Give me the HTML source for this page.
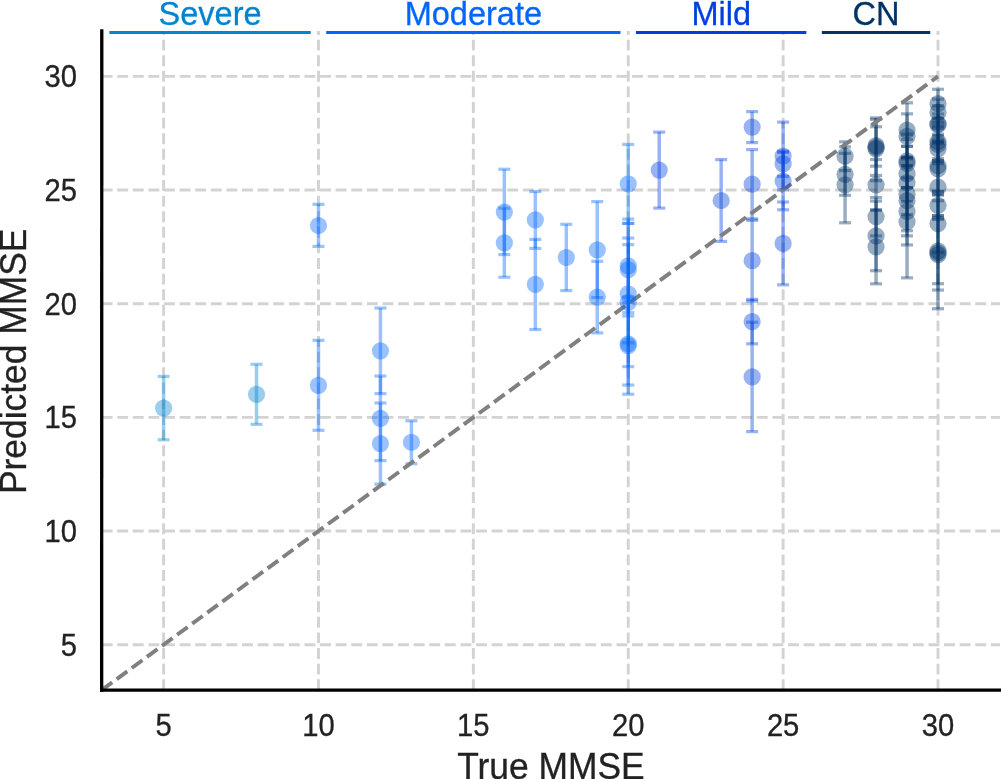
<!DOCTYPE html>
<html><head><meta charset="utf-8"><title>Predicted vs True MMSE</title>
<style>
html,body{margin:0;padding:0;background:#fff;}
body{width:1001px;height:779px;overflow:hidden;}
svg{display:block;font-family:"Liberation Sans",Arial,Helvetica,sans-serif;}
</style></head><body>
<svg width="1001" height="779" viewBox="0 0 1001 779">
<defs><clipPath id="ax"><rect x="101.65" y="30.94" width="898.3" height="659.23"/></clipPath></defs>
<defs><linearGradient id="g0" gradientUnits="userSpaceOnUse" x1="0" y1="376.4" x2="0" y2="439.8"><stop offset="0.0000" stop-color="#0284D0" stop-opacity="0.400"/><stop offset="1.0000" stop-color="#0284D0" stop-opacity="0.400"/></linearGradient><linearGradient id="g1" gradientUnits="userSpaceOnUse" x1="0" y1="364.25" x2="0" y2="424.35"><stop offset="0.0000" stop-color="#0284D0" stop-opacity="0.400"/><stop offset="1.0000" stop-color="#0284D0" stop-opacity="0.400"/></linearGradient><linearGradient id="g2" gradientUnits="userSpaceOnUse" x1="0" y1="204.3" x2="0" y2="430.3"><stop offset="0.0000" stop-color="#0066FF" stop-opacity="0.400"/><stop offset="0.1863" stop-color="#0066FF" stop-opacity="0.400"/><stop offset="0.1863" stop-color="#0066FF" stop-opacity="0.000"/><stop offset="0.6018" stop-color="#0066FF" stop-opacity="0.000"/><stop offset="0.6018" stop-color="#0066FF" stop-opacity="0.400"/><stop offset="1.0000" stop-color="#0066FF" stop-opacity="0.400"/></linearGradient><linearGradient id="g3" gradientUnits="userSpaceOnUse" x1="0" y1="308.05" x2="0" y2="484.15"><stop offset="0.0000" stop-color="#0066FF" stop-opacity="0.400"/><stop offset="0.3861" stop-color="#0066FF" stop-opacity="0.400"/><stop offset="0.3861" stop-color="#0066FF" stop-opacity="0.640"/><stop offset="0.4861" stop-color="#0066FF" stop-opacity="0.640"/><stop offset="0.4861" stop-color="#0066FF" stop-opacity="0.400"/><stop offset="0.5389" stop-color="#0066FF" stop-opacity="0.400"/><stop offset="0.5389" stop-color="#0066FF" stop-opacity="0.640"/><stop offset="0.8666" stop-color="#0066FF" stop-opacity="0.640"/><stop offset="0.8666" stop-color="#0066FF" stop-opacity="0.400"/><stop offset="1.0000" stop-color="#0066FF" stop-opacity="0.400"/></linearGradient><linearGradient id="g4" gradientUnits="userSpaceOnUse" x1="0" y1="420.75" x2="0" y2="463.75"><stop offset="0.0000" stop-color="#0066FF" stop-opacity="0.400"/><stop offset="1.0000" stop-color="#0066FF" stop-opacity="0.400"/></linearGradient><linearGradient id="g5" gradientUnits="userSpaceOnUse" x1="0" y1="169.25" x2="0" y2="277.2"><stop offset="0.0000" stop-color="#0066FF" stop-opacity="0.400"/><stop offset="0.3608" stop-color="#0066FF" stop-opacity="0.400"/><stop offset="0.3608" stop-color="#0066FF" stop-opacity="0.640"/><stop offset="0.7906" stop-color="#0066FF" stop-opacity="0.640"/><stop offset="0.7906" stop-color="#0066FF" stop-opacity="0.400"/><stop offset="1.0000" stop-color="#0066FF" stop-opacity="0.400"/></linearGradient><linearGradient id="g6" gradientUnits="userSpaceOnUse" x1="0" y1="191.5" x2="0" y2="329.5"><stop offset="0.0000" stop-color="#0066FF" stop-opacity="0.400"/><stop offset="0.3471" stop-color="#0066FF" stop-opacity="0.400"/><stop offset="0.3471" stop-color="#0066FF" stop-opacity="0.640"/><stop offset="0.4123" stop-color="#0066FF" stop-opacity="0.640"/><stop offset="0.4123" stop-color="#0066FF" stop-opacity="0.400"/><stop offset="1.0000" stop-color="#0066FF" stop-opacity="0.400"/></linearGradient><linearGradient id="g7" gradientUnits="userSpaceOnUse" x1="0" y1="224.3" x2="0" y2="290.6"><stop offset="0.0000" stop-color="#0066FF" stop-opacity="0.400"/><stop offset="1.0000" stop-color="#0066FF" stop-opacity="0.400"/></linearGradient><linearGradient id="g8" gradientUnits="userSpaceOnUse" x1="0" y1="201.6" x2="0" y2="332.9"><stop offset="0.0000" stop-color="#0066FF" stop-opacity="0.400"/><stop offset="0.4547" stop-color="#0066FF" stop-opacity="0.400"/><stop offset="0.4547" stop-color="#0066FF" stop-opacity="0.640"/><stop offset="0.7312" stop-color="#0066FF" stop-opacity="0.640"/><stop offset="0.7312" stop-color="#0066FF" stop-opacity="0.400"/><stop offset="1.0000" stop-color="#0066FF" stop-opacity="0.400"/></linearGradient><linearGradient id="g9" gradientUnits="userSpaceOnUse" x1="0" y1="144.45" x2="0" y2="394.25"><stop offset="0.0000" stop-color="#0066FF" stop-opacity="0.400"/><stop offset="0.2986" stop-color="#0066FF" stop-opacity="0.400"/><stop offset="0.2986" stop-color="#0066FF" stop-opacity="0.640"/><stop offset="0.3159" stop-color="#0066FF" stop-opacity="0.640"/><stop offset="0.3159" stop-color="#0066FF" stop-opacity="0.784"/><stop offset="0.3163" stop-color="#0066FF" stop-opacity="0.784"/><stop offset="0.3163" stop-color="#0066FF" stop-opacity="0.640"/><stop offset="0.3747" stop-color="#0066FF" stop-opacity="0.640"/><stop offset="0.3747" stop-color="#0066FF" stop-opacity="0.784"/><stop offset="0.4011" stop-color="#0066FF" stop-opacity="0.784"/><stop offset="0.4011" stop-color="#0066FF" stop-opacity="0.870"/><stop offset="0.6109" stop-color="#0066FF" stop-opacity="0.870"/><stop offset="0.6109" stop-color="#0066FF" stop-opacity="0.922"/><stop offset="0.6325" stop-color="#0066FF" stop-opacity="0.922"/><stop offset="0.6325" stop-color="#0066FF" stop-opacity="0.953"/><stop offset="0.6733" stop-color="#0066FF" stop-opacity="0.953"/><stop offset="0.6733" stop-color="#0066FF" stop-opacity="0.922"/><stop offset="0.6865" stop-color="#0066FF" stop-opacity="0.922"/><stop offset="0.6865" stop-color="#0066FF" stop-opacity="0.870"/><stop offset="0.7942" stop-color="#0066FF" stop-opacity="0.870"/><stop offset="0.7942" stop-color="#0066FF" stop-opacity="0.784"/><stop offset="0.8895" stop-color="#0066FF" stop-opacity="0.784"/><stop offset="0.8895" stop-color="#0066FF" stop-opacity="0.640"/><stop offset="0.9632" stop-color="#0066FF" stop-opacity="0.640"/><stop offset="0.9632" stop-color="#0066FF" stop-opacity="0.400"/><stop offset="1.0000" stop-color="#0066FF" stop-opacity="0.400"/></linearGradient><linearGradient id="g10" gradientUnits="userSpaceOnUse" x1="0" y1="132.1" x2="0" y2="208.1"><stop offset="0.0000" stop-color="#0040DD" stop-opacity="0.400"/><stop offset="1.0000" stop-color="#0040DD" stop-opacity="0.400"/></linearGradient><linearGradient id="g11" gradientUnits="userSpaceOnUse" x1="0" y1="159.6" x2="0" y2="241.4"><stop offset="0.0000" stop-color="#0040DD" stop-opacity="0.400"/><stop offset="1.0000" stop-color="#0040DD" stop-opacity="0.400"/></linearGradient><linearGradient id="g12" gradientUnits="userSpaceOnUse" x1="0" y1="111.6" x2="0" y2="431.6"><stop offset="0.0000" stop-color="#0040DD" stop-opacity="0.400"/><stop offset="0.0969" stop-color="#0040DD" stop-opacity="0.400"/><stop offset="0.0969" stop-color="#0040DD" stop-opacity="0.000"/><stop offset="0.1187" stop-color="#0040DD" stop-opacity="0.000"/><stop offset="0.1187" stop-color="#0040DD" stop-opacity="0.400"/><stop offset="0.3350" stop-color="#0040DD" stop-opacity="0.400"/><stop offset="0.3350" stop-color="#0040DD" stop-opacity="0.000"/><stop offset="0.3397" stop-color="#0040DD" stop-opacity="0.000"/><stop offset="0.3397" stop-color="#0040DD" stop-opacity="0.400"/><stop offset="0.5869" stop-color="#0040DD" stop-opacity="0.400"/><stop offset="0.5869" stop-color="#0040DD" stop-opacity="0.640"/><stop offset="0.5922" stop-color="#0040DD" stop-opacity="0.640"/><stop offset="0.5922" stop-color="#0040DD" stop-opacity="0.400"/><stop offset="0.6581" stop-color="#0040DD" stop-opacity="0.400"/><stop offset="0.6581" stop-color="#0040DD" stop-opacity="0.640"/><stop offset="0.7256" stop-color="#0040DD" stop-opacity="0.640"/><stop offset="0.7256" stop-color="#0040DD" stop-opacity="0.400"/><stop offset="1.0000" stop-color="#0040DD" stop-opacity="0.400"/></linearGradient><linearGradient id="g13" gradientUnits="userSpaceOnUse" x1="0" y1="122.1" x2="0" y2="284.8"><stop offset="0.0000" stop-color="#0040DD" stop-opacity="0.400"/><stop offset="0.1795" stop-color="#0040DD" stop-opacity="0.400"/><stop offset="0.1795" stop-color="#0040DD" stop-opacity="0.640"/><stop offset="0.1862" stop-color="#0040DD" stop-opacity="0.640"/><stop offset="0.1862" stop-color="#0040DD" stop-opacity="0.784"/><stop offset="0.3344" stop-color="#0040DD" stop-opacity="0.784"/><stop offset="0.3344" stop-color="#0040DD" stop-opacity="0.640"/><stop offset="0.4167" stop-color="#0040DD" stop-opacity="0.640"/><stop offset="0.4167" stop-color="#0040DD" stop-opacity="0.400"/><stop offset="0.4911" stop-color="#0040DD" stop-opacity="0.400"/><stop offset="0.4911" stop-color="#0040DD" stop-opacity="0.640"/><stop offset="0.5390" stop-color="#0040DD" stop-opacity="0.640"/><stop offset="0.5390" stop-color="#0040DD" stop-opacity="0.400"/><stop offset="1.0000" stop-color="#0040DD" stop-opacity="0.400"/></linearGradient><linearGradient id="g14" gradientUnits="userSpaceOnUse" x1="0" y1="141.8" x2="0" y2="222.8"><stop offset="0.0000" stop-color="#003366" stop-opacity="0.400"/><stop offset="0.0617" stop-color="#003366" stop-opacity="0.400"/><stop offset="0.0617" stop-color="#003366" stop-opacity="0.640"/><stop offset="0.1420" stop-color="#003366" stop-opacity="0.640"/><stop offset="0.1420" stop-color="#003366" stop-opacity="0.784"/><stop offset="0.3556" stop-color="#003366" stop-opacity="0.784"/><stop offset="0.3556" stop-color="#003366" stop-opacity="0.640"/><stop offset="0.6605" stop-color="#003366" stop-opacity="0.640"/><stop offset="0.6605" stop-color="#003366" stop-opacity="0.400"/><stop offset="1.0000" stop-color="#003366" stop-opacity="0.400"/></linearGradient><linearGradient id="g15" gradientUnits="userSpaceOnUse" x1="0" y1="117.85" x2="0" y2="283.85"><stop offset="0.0000" stop-color="#003366" stop-opacity="0.400"/><stop offset="0.0096" stop-color="#003366" stop-opacity="0.400"/><stop offset="0.0096" stop-color="#003366" stop-opacity="0.640"/><stop offset="0.0536" stop-color="#003366" stop-opacity="0.640"/><stop offset="0.0536" stop-color="#003366" stop-opacity="0.784"/><stop offset="0.2512" stop-color="#003366" stop-opacity="0.784"/><stop offset="0.2512" stop-color="#003366" stop-opacity="0.870"/><stop offset="0.2910" stop-color="#003366" stop-opacity="0.870"/><stop offset="0.2910" stop-color="#003366" stop-opacity="0.784"/><stop offset="0.3470" stop-color="#003366" stop-opacity="0.784"/><stop offset="0.3470" stop-color="#003366" stop-opacity="0.640"/><stop offset="0.3789" stop-color="#003366" stop-opacity="0.640"/><stop offset="0.3789" stop-color="#003366" stop-opacity="0.400"/><stop offset="0.4801" stop-color="#003366" stop-opacity="0.400"/><stop offset="0.4801" stop-color="#003366" stop-opacity="0.640"/><stop offset="0.5018" stop-color="#003366" stop-opacity="0.640"/><stop offset="0.5018" stop-color="#003366" stop-opacity="0.784"/><stop offset="0.5542" stop-color="#003366" stop-opacity="0.784"/><stop offset="0.5542" stop-color="#003366" stop-opacity="0.870"/><stop offset="0.5560" stop-color="#003366" stop-opacity="0.870"/><stop offset="0.5560" stop-color="#003366" stop-opacity="0.784"/><stop offset="0.7114" stop-color="#003366" stop-opacity="0.784"/><stop offset="0.7114" stop-color="#003366" stop-opacity="0.640"/><stop offset="0.9211" stop-color="#003366" stop-opacity="0.640"/><stop offset="0.9211" stop-color="#003366" stop-opacity="0.400"/><stop offset="1.0000" stop-color="#003366" stop-opacity="0.400"/></linearGradient><linearGradient id="g16" gradientUnits="userSpaceOnUse" x1="0" y1="102.85" x2="0" y2="277.85"><stop offset="0.0000" stop-color="#003366" stop-opacity="0.400"/><stop offset="0.0629" stop-color="#003366" stop-opacity="0.400"/><stop offset="0.0629" stop-color="#003366" stop-opacity="0.640"/><stop offset="0.1789" stop-color="#003366" stop-opacity="0.640"/><stop offset="0.1789" stop-color="#003366" stop-opacity="0.784"/><stop offset="0.2091" stop-color="#003366" stop-opacity="0.784"/><stop offset="0.2091" stop-color="#003366" stop-opacity="0.870"/><stop offset="0.2480" stop-color="#003366" stop-opacity="0.870"/><stop offset="0.2480" stop-color="#003366" stop-opacity="0.922"/><stop offset="0.2491" stop-color="#003366" stop-opacity="0.922"/><stop offset="0.2491" stop-color="#003366" stop-opacity="0.953"/><stop offset="0.3109" stop-color="#003366" stop-opacity="0.953"/><stop offset="0.3109" stop-color="#003366" stop-opacity="0.922"/><stop offset="0.3120" stop-color="#003366" stop-opacity="0.922"/><stop offset="0.3120" stop-color="#003366" stop-opacity="0.953"/><stop offset="0.3200" stop-color="#003366" stop-opacity="0.953"/><stop offset="0.3200" stop-color="#003366" stop-opacity="0.922"/><stop offset="0.3577" stop-color="#003366" stop-opacity="0.922"/><stop offset="0.3577" stop-color="#003366" stop-opacity="0.953"/><stop offset="0.3589" stop-color="#003366" stop-opacity="0.953"/><stop offset="0.3589" stop-color="#003366" stop-opacity="0.972"/><stop offset="0.4291" stop-color="#003366" stop-opacity="0.972"/><stop offset="0.4291" stop-color="#003366" stop-opacity="0.983"/><stop offset="0.4834" stop-color="#003366" stop-opacity="0.983"/><stop offset="0.4834" stop-color="#003366" stop-opacity="0.972"/><stop offset="0.4851" stop-color="#003366" stop-opacity="0.972"/><stop offset="0.4851" stop-color="#003366" stop-opacity="0.953"/><stop offset="0.5646" stop-color="#003366" stop-opacity="0.953"/><stop offset="0.5646" stop-color="#003366" stop-opacity="0.922"/><stop offset="0.6377" stop-color="#003366" stop-opacity="0.922"/><stop offset="0.6377" stop-color="#003366" stop-opacity="0.870"/><stop offset="0.7309" stop-color="#003366" stop-opacity="0.870"/><stop offset="0.7309" stop-color="#003366" stop-opacity="0.784"/><stop offset="0.7600" stop-color="#003366" stop-opacity="0.784"/><stop offset="0.7600" stop-color="#003366" stop-opacity="0.640"/><stop offset="0.8120" stop-color="#003366" stop-opacity="0.640"/><stop offset="0.8120" stop-color="#003366" stop-opacity="0.400"/><stop offset="1.0000" stop-color="#003366" stop-opacity="0.400"/></linearGradient><linearGradient id="g17" gradientUnits="userSpaceOnUse" x1="0" y1="89.25" x2="0" y2="308.75"><stop offset="0.0000" stop-color="#003366" stop-opacity="0.400"/><stop offset="0.0451" stop-color="#003366" stop-opacity="0.400"/><stop offset="0.0451" stop-color="#003366" stop-opacity="0.640"/><stop offset="0.0747" stop-color="#003366" stop-opacity="0.640"/><stop offset="0.0747" stop-color="#003366" stop-opacity="0.784"/><stop offset="0.1125" stop-color="#003366" stop-opacity="0.784"/><stop offset="0.1125" stop-color="#003366" stop-opacity="0.870"/><stop offset="0.1312" stop-color="#003366" stop-opacity="0.870"/><stop offset="0.1312" stop-color="#003366" stop-opacity="0.784"/><stop offset="0.1503" stop-color="#003366" stop-opacity="0.784"/><stop offset="0.1503" stop-color="#003366" stop-opacity="0.870"/><stop offset="0.1663" stop-color="#003366" stop-opacity="0.870"/><stop offset="0.1663" stop-color="#003366" stop-opacity="0.784"/><stop offset="0.1768" stop-color="#003366" stop-opacity="0.784"/><stop offset="0.1768" stop-color="#003366" stop-opacity="0.870"/><stop offset="0.2050" stop-color="#003366" stop-opacity="0.870"/><stop offset="0.2050" stop-color="#003366" stop-opacity="0.922"/><stop offset="0.2128" stop-color="#003366" stop-opacity="0.922"/><stop offset="0.2128" stop-color="#003366" stop-opacity="0.870"/><stop offset="0.2314" stop-color="#003366" stop-opacity="0.870"/><stop offset="0.2314" stop-color="#003366" stop-opacity="0.922"/><stop offset="0.2396" stop-color="#003366" stop-opacity="0.922"/><stop offset="0.2396" stop-color="#003366" stop-opacity="0.870"/><stop offset="0.2446" stop-color="#003366" stop-opacity="0.870"/><stop offset="0.2446" stop-color="#003366" stop-opacity="0.922"/><stop offset="0.3162" stop-color="#003366" stop-opacity="0.922"/><stop offset="0.3162" stop-color="#003366" stop-opacity="0.953"/><stop offset="0.3262" stop-color="#003366" stop-opacity="0.953"/><stop offset="0.3262" stop-color="#003366" stop-opacity="0.922"/><stop offset="0.3280" stop-color="#003366" stop-opacity="0.922"/><stop offset="0.3280" stop-color="#003366" stop-opacity="0.870"/><stop offset="0.3390" stop-color="#003366" stop-opacity="0.870"/><stop offset="0.3390" stop-color="#003366" stop-opacity="0.784"/><stop offset="0.4647" stop-color="#003366" stop-opacity="0.784"/><stop offset="0.4647" stop-color="#003366" stop-opacity="0.870"/><stop offset="0.4656" stop-color="#003366" stop-opacity="0.870"/><stop offset="0.4656" stop-color="#003366" stop-opacity="0.784"/><stop offset="0.4806" stop-color="#003366" stop-opacity="0.784"/><stop offset="0.4806" stop-color="#003366" stop-opacity="0.870"/><stop offset="0.4815" stop-color="#003366" stop-opacity="0.870"/><stop offset="0.4815" stop-color="#003366" stop-opacity="0.784"/><stop offset="0.5080" stop-color="#003366" stop-opacity="0.784"/><stop offset="0.5080" stop-color="#003366" stop-opacity="0.870"/><stop offset="0.5759" stop-color="#003366" stop-opacity="0.870"/><stop offset="0.5759" stop-color="#003366" stop-opacity="0.870"/><stop offset="0.5872" stop-color="#003366" stop-opacity="0.870"/><stop offset="0.5872" stop-color="#003366" stop-opacity="0.922"/><stop offset="0.5932" stop-color="#003366" stop-opacity="0.922"/><stop offset="0.5932" stop-color="#003366" stop-opacity="0.870"/><stop offset="0.7431" stop-color="#003366" stop-opacity="0.870"/><stop offset="0.7431" stop-color="#003366" stop-opacity="0.784"/><stop offset="0.8861" stop-color="#003366" stop-opacity="0.784"/><stop offset="0.8861" stop-color="#003366" stop-opacity="0.640"/><stop offset="0.9148" stop-color="#003366" stop-opacity="0.640"/><stop offset="0.9148" stop-color="#003366" stop-opacity="0.400"/><stop offset="1.0000" stop-color="#003366" stop-opacity="0.400"/></linearGradient></defs>
<g stroke="#d3d3d3" stroke-width="2.9445" stroke-dasharray="10.89 4.71" fill="none">
<line x1="163.6" y1="690.16" x2="163.6" y2="30.94"/>
<line x1="318.48" y1="690.16" x2="318.48" y2="30.94"/>
<line x1="473.36" y1="690.16" x2="473.36" y2="30.94"/>
<line x1="628.24" y1="690.16" x2="628.24" y2="30.94"/>
<line x1="783.12" y1="690.16" x2="783.12" y2="30.94"/>
<line x1="938" y1="690.16" x2="938" y2="30.94"/>
<line x1="101.65" y1="644.7" x2="999.95" y2="644.7"/>
<line x1="101.65" y1="531.04" x2="999.95" y2="531.04"/>
<line x1="101.65" y1="417.38" x2="999.95" y2="417.38"/>
<line x1="101.65" y1="303.72" x2="999.95" y2="303.72"/>
<line x1="101.65" y1="190.06" x2="999.95" y2="190.06"/>
<line x1="101.65" y1="76.4" x2="999.95" y2="76.4"/>
</g>
<line x1="163.6" y1="376.4" x2="163.6" y2="439.8" stroke="url(#g0)" stroke-width="3.5"/>
<g stroke="#0284D0" stroke-opacity="0.4" stroke-width="3.2">
<line x1="157.6" y1="376.4" x2="169.6" y2="376.4"/>
<line x1="157.6" y1="439.8" x2="169.6" y2="439.8"/>
</g>
<line x1="256.53" y1="364.25" x2="256.53" y2="424.35" stroke="url(#g1)" stroke-width="3.5"/>
<g stroke="#0284D0" stroke-opacity="0.4" stroke-width="3.2">
<line x1="250.53" y1="364.25" x2="262.53" y2="364.25"/>
<line x1="250.53" y1="424.35" x2="262.53" y2="424.35"/>
</g>
<line x1="318.48" y1="204.3" x2="318.48" y2="430.3" stroke="url(#g2)" stroke-width="3.5"/>
<g stroke="#0066FF" stroke-opacity="0.4" stroke-width="3.2">
<line x1="312.48" y1="204.3" x2="324.48" y2="204.3"/>
<line x1="312.48" y1="246.4" x2="324.48" y2="246.4"/>
<line x1="312.48" y1="340.3" x2="324.48" y2="340.3"/>
<line x1="312.48" y1="430.3" x2="324.48" y2="430.3"/>
</g>
<line x1="380.43" y1="308.05" x2="380.43" y2="484.15" stroke="url(#g3)" stroke-width="3.5"/>
<g stroke="#0066FF" stroke-opacity="0.4" stroke-width="3.2">
<line x1="374.43" y1="308.05" x2="386.43" y2="308.05"/>
<line x1="374.43" y1="393.65" x2="386.43" y2="393.65"/>
<line x1="374.43" y1="376.05" x2="386.43" y2="376.05"/>
<line x1="374.43" y1="460.65" x2="386.43" y2="460.65"/>
<line x1="374.43" y1="402.95" x2="386.43" y2="402.95"/>
<line x1="374.43" y1="484.15" x2="386.43" y2="484.15"/>
</g>
<line x1="411.41" y1="420.75" x2="411.41" y2="463.75" stroke="url(#g4)" stroke-width="3.5"/>
<g stroke="#0066FF" stroke-opacity="0.4" stroke-width="3.2">
<line x1="405.41" y1="420.75" x2="417.41" y2="420.75"/>
<line x1="405.41" y1="463.75" x2="417.41" y2="463.75"/>
</g>
<line x1="504.34" y1="169.25" x2="504.34" y2="277.2" stroke="url(#g5)" stroke-width="3.5"/>
<g stroke="#0066FF" stroke-opacity="0.4" stroke-width="3.2">
<line x1="498.34" y1="169.25" x2="510.34" y2="169.25"/>
<line x1="498.34" y1="254.6" x2="510.34" y2="254.6"/>
<line x1="498.34" y1="208.2" x2="510.34" y2="208.2"/>
<line x1="498.34" y1="277.2" x2="510.34" y2="277.2"/>
</g>
<line x1="535.31" y1="191.5" x2="535.31" y2="329.5" stroke="url(#g6)" stroke-width="3.5"/>
<g stroke="#0066FF" stroke-opacity="0.4" stroke-width="3.2">
<line x1="529.31" y1="191.5" x2="541.31" y2="191.5"/>
<line x1="529.31" y1="248.4" x2="541.31" y2="248.4"/>
<line x1="529.31" y1="239.4" x2="541.31" y2="239.4"/>
<line x1="529.31" y1="329.5" x2="541.31" y2="329.5"/>
</g>
<line x1="566.29" y1="224.3" x2="566.29" y2="290.6" stroke="url(#g7)" stroke-width="3.5"/>
<g stroke="#0066FF" stroke-opacity="0.4" stroke-width="3.2">
<line x1="560.29" y1="224.3" x2="572.29" y2="224.3"/>
<line x1="560.29" y1="290.6" x2="572.29" y2="290.6"/>
</g>
<line x1="597.26" y1="201.6" x2="597.26" y2="332.9" stroke="url(#g8)" stroke-width="3.5"/>
<g stroke="#0066FF" stroke-opacity="0.4" stroke-width="3.2">
<line x1="591.26" y1="201.6" x2="603.26" y2="201.6"/>
<line x1="591.26" y1="297.6" x2="603.26" y2="297.6"/>
<line x1="591.26" y1="261.3" x2="603.26" y2="261.3"/>
<line x1="591.26" y1="332.9" x2="603.26" y2="332.9"/>
</g>
<line x1="628.24" y1="144.45" x2="628.24" y2="394.25" stroke="url(#g9)" stroke-width="3.5"/>
<g stroke="#0066FF" stroke-opacity="0.4" stroke-width="3.2">
<line x1="622.24" y1="144.45" x2="634.24" y2="144.45"/>
<line x1="622.24" y1="223.45" x2="634.24" y2="223.45"/>
<line x1="622.24" y1="219.05" x2="634.24" y2="219.05"/>
<line x1="622.24" y1="312.65" x2="634.24" y2="312.65"/>
<line x1="622.24" y1="223.35" x2="634.24" y2="223.35"/>
<line x1="622.24" y1="315.95" x2="634.24" y2="315.95"/>
<line x1="622.24" y1="244.65" x2="634.24" y2="244.65"/>
<line x1="622.24" y1="342.85" x2="634.24" y2="342.85"/>
<line x1="622.24" y1="238.05" x2="634.24" y2="238.05"/>
<line x1="622.24" y1="366.65" x2="634.24" y2="366.65"/>
<line x1="622.24" y1="302.45" x2="634.24" y2="302.45"/>
<line x1="622.24" y1="385.05" x2="634.24" y2="385.05"/>
<line x1="622.24" y1="297.05" x2="634.24" y2="297.05"/>
<line x1="622.24" y1="394.25" x2="634.24" y2="394.25"/>
</g>
<line x1="659.22" y1="132.1" x2="659.22" y2="208.1" stroke="url(#g10)" stroke-width="3.5"/>
<g stroke="#0040DD" stroke-opacity="0.4" stroke-width="3.2">
<line x1="653.22" y1="132.1" x2="665.22" y2="132.1"/>
<line x1="653.22" y1="208.1" x2="665.22" y2="208.1"/>
</g>
<line x1="721.17" y1="159.6" x2="721.17" y2="241.4" stroke="url(#g11)" stroke-width="3.5"/>
<g stroke="#0040DD" stroke-opacity="0.4" stroke-width="3.2">
<line x1="715.17" y1="159.6" x2="727.17" y2="159.6"/>
<line x1="715.17" y1="241.4" x2="727.17" y2="241.4"/>
</g>
<line x1="752.14" y1="111.6" x2="752.14" y2="431.6" stroke="url(#g12)" stroke-width="3.5"/>
<g stroke="#0040DD" stroke-opacity="0.4" stroke-width="3.2">
<line x1="746.14" y1="111.6" x2="758.14" y2="111.6"/>
<line x1="746.14" y1="142.6" x2="758.14" y2="142.6"/>
<line x1="746.14" y1="149.6" x2="758.14" y2="149.6"/>
<line x1="746.14" y1="218.8" x2="758.14" y2="218.8"/>
<line x1="746.14" y1="220.3" x2="758.14" y2="220.3"/>
<line x1="746.14" y1="301.1" x2="758.14" y2="301.1"/>
<line x1="746.14" y1="299.4" x2="758.14" y2="299.4"/>
<line x1="746.14" y1="343.8" x2="758.14" y2="343.8"/>
<line x1="746.14" y1="322.2" x2="758.14" y2="322.2"/>
<line x1="746.14" y1="431.6" x2="758.14" y2="431.6"/>
</g>
<line x1="783.12" y1="122.1" x2="783.12" y2="284.8" stroke="url(#g13)" stroke-width="3.5"/>
<g stroke="#0040DD" stroke-opacity="0.4" stroke-width="3.2">
<line x1="777.12" y1="122.1" x2="789.12" y2="122.1"/>
<line x1="777.12" y1="189.9" x2="789.12" y2="189.9"/>
<line x1="777.12" y1="151.3" x2="789.12" y2="151.3"/>
<line x1="777.12" y1="176.5" x2="789.12" y2="176.5"/>
<line x1="777.12" y1="152.4" x2="789.12" y2="152.4"/>
<line x1="777.12" y1="209.8" x2="789.12" y2="209.8"/>
<line x1="777.12" y1="202" x2="789.12" y2="202"/>
<line x1="777.12" y1="284.8" x2="789.12" y2="284.8"/>
</g>
<line x1="845.07" y1="141.8" x2="845.07" y2="222.8" stroke="url(#g14)" stroke-width="3.5"/>
<g stroke="#003366" stroke-opacity="0.4" stroke-width="3.2">
<line x1="839.07" y1="141.8" x2="851.07" y2="141.8"/>
<line x1="839.07" y1="170.6" x2="851.07" y2="170.6"/>
<line x1="839.07" y1="153.3" x2="851.07" y2="153.3"/>
<line x1="839.07" y1="195.3" x2="851.07" y2="195.3"/>
<line x1="839.07" y1="146.8" x2="851.07" y2="146.8"/>
<line x1="839.07" y1="222.8" x2="851.07" y2="222.8"/>
</g>
<line x1="876.05" y1="117.85" x2="876.05" y2="283.85" stroke="url(#g15)" stroke-width="3.5"/>
<g stroke="#003366" stroke-opacity="0.4" stroke-width="3.2">
<line x1="870.05" y1="126.75" x2="882.05" y2="126.75"/>
<line x1="870.05" y1="166.15" x2="882.05" y2="166.15"/>
<line x1="870.05" y1="119.45" x2="882.05" y2="119.45"/>
<line x1="870.05" y1="175.45" x2="882.05" y2="175.45"/>
<line x1="870.05" y1="117.85" x2="882.05" y2="117.85"/>
<line x1="870.05" y1="180.75" x2="882.05" y2="180.75"/>
<line x1="870.05" y1="159.55" x2="882.05" y2="159.55"/>
<line x1="870.05" y1="210.15" x2="882.05" y2="210.15"/>
<line x1="870.05" y1="197.55" x2="882.05" y2="197.55"/>
<line x1="870.05" y1="235.95" x2="882.05" y2="235.95"/>
<line x1="870.05" y1="201.15" x2="882.05" y2="201.15"/>
<line x1="870.05" y1="270.75" x2="882.05" y2="270.75"/>
<line x1="870.05" y1="209.85" x2="882.05" y2="209.85"/>
<line x1="870.05" y1="283.85" x2="882.05" y2="283.85"/>
</g>
<line x1="907.02" y1="102.85" x2="907.02" y2="277.85" stroke="url(#g16)" stroke-width="3.5"/>
<g stroke="#003366" stroke-opacity="0.4" stroke-width="3.2">
<line x1="901.02" y1="102.85" x2="913.02" y2="102.85"/>
<line x1="901.02" y1="157.25" x2="913.02" y2="157.25"/>
<line x1="901.02" y1="113.85" x2="913.02" y2="113.85"/>
<line x1="901.02" y1="158.85" x2="913.02" y2="158.85"/>
<line x1="901.02" y1="134.15" x2="913.02" y2="134.15"/>
<line x1="901.02" y1="187.75" x2="913.02" y2="187.75"/>
<line x1="901.02" y1="139.45" x2="913.02" y2="139.45"/>
<line x1="901.02" y1="187.45" x2="913.02" y2="187.45"/>
<line x1="901.02" y1="146.25" x2="913.02" y2="146.25"/>
<line x1="901.02" y1="201.65" x2="913.02" y2="201.65"/>
<line x1="901.02" y1="146.45" x2="913.02" y2="146.45"/>
<line x1="901.02" y1="214.45" x2="913.02" y2="214.45"/>
<line x1="901.02" y1="157.45" x2="913.02" y2="157.45"/>
<line x1="901.02" y1="230.75" x2="913.02" y2="230.75"/>
<line x1="901.02" y1="165.45" x2="913.02" y2="165.45"/>
<line x1="901.02" y1="235.85" x2="913.02" y2="235.85"/>
<line x1="901.02" y1="177.95" x2="913.02" y2="177.95"/>
<line x1="901.02" y1="244.95" x2="913.02" y2="244.95"/>
<line x1="901.02" y1="165.65" x2="913.02" y2="165.65"/>
<line x1="901.02" y1="277.85" x2="913.02" y2="277.85"/>
</g>
<line x1="938" y1="89.25" x2="938" y2="308.75" stroke="url(#g17)" stroke-width="3.5"/>
<g stroke="#003366" stroke-opacity="0.4" stroke-width="3.2">
<line x1="932" y1="89.25" x2="944" y2="89.25"/>
<line x1="932" y1="118.05" x2="944" y2="118.05"/>
<line x1="932" y1="99.15" x2="944" y2="99.15"/>
<line x1="932" y1="125.75" x2="944" y2="125.75"/>
<line x1="932" y1="105.65" x2="944" y2="105.65"/>
<line x1="932" y1="141.85" x2="944" y2="141.85"/>
<line x1="932" y1="113.95" x2="944" y2="113.95"/>
<line x1="932" y1="135.95" x2="944" y2="135.95"/>
<line x1="932" y1="122.25" x2="944" y2="122.25"/>
<line x1="932" y1="161.25" x2="944" y2="161.25"/>
<line x1="932" y1="128.05" x2="944" y2="128.05"/>
<line x1="932" y1="160.85" x2="944" y2="160.85"/>
<line x1="932" y1="134.25" x2="944" y2="134.25"/>
<line x1="932" y1="163.65" x2="944" y2="163.65"/>
<line x1="932" y1="140.05" x2="944" y2="140.05"/>
<line x1="932" y1="191.45" x2="944" y2="191.45"/>
<line x1="932" y1="142.95" x2="944" y2="142.95"/>
<line x1="932" y1="194.95" x2="944" y2="194.95"/>
<line x1="932" y1="158.65" x2="944" y2="158.65"/>
<line x1="932" y1="215.65" x2="944" y2="215.65"/>
<line x1="932" y1="191.25" x2="944" y2="191.25"/>
<line x1="932" y1="219.45" x2="944" y2="219.45"/>
<line x1="932" y1="194.75" x2="944" y2="194.75"/>
<line x1="932" y1="252.35" x2="944" y2="252.35"/>
<line x1="932" y1="218.15" x2="944" y2="218.15"/>
<line x1="932" y1="283.75" x2="944" y2="283.75"/>
<line x1="932" y1="215.65" x2="944" y2="215.65"/>
<line x1="932" y1="290.05" x2="944" y2="290.05"/>
<line x1="932" y1="200.75" x2="944" y2="200.75"/>
<line x1="932" y1="308.75" x2="944" y2="308.75"/>
</g>
<line x1="101.65" y1="690.16" x2="938" y2="76.4" stroke="#808080" stroke-width="3.95" stroke-dasharray="13.07 5.65"/>
<g fill="#0284D0" fill-opacity="0.4">
<circle cx="163.6" cy="408.1" r="8.6"/>
</g>
<g fill="#0284D0" fill-opacity="0.4">
<circle cx="256.53" cy="394.3" r="8.6"/>
</g>
<g fill="#0066FF" fill-opacity="0.4">
<circle cx="318.48" cy="225.5" r="8.6"/>
<circle cx="318.48" cy="385.3" r="8.6"/>
</g>
<g fill="#0066FF" fill-opacity="0.4">
<circle cx="380.43" cy="350.85" r="8.6"/>
<circle cx="380.43" cy="418.35" r="8.6"/>
<circle cx="380.43" cy="443.55" r="8.6"/>
</g>
<g fill="#0066FF" fill-opacity="0.4">
<circle cx="411.41" cy="442.25" r="8.6"/>
</g>
<g fill="#0066FF" fill-opacity="0.4">
<circle cx="504.34" cy="212.1" r="8.6"/>
<circle cx="504.34" cy="242.9" r="8.6"/>
</g>
<g fill="#0066FF" fill-opacity="0.4">
<circle cx="535.31" cy="219.8" r="8.6"/>
<circle cx="535.31" cy="284.3" r="8.6"/>
</g>
<g fill="#0066FF" fill-opacity="0.4">
<circle cx="566.29" cy="257.5" r="8.6"/>
</g>
<g fill="#0066FF" fill-opacity="0.4">
<circle cx="597.26" cy="249.8" r="8.6"/>
<circle cx="597.26" cy="297.2" r="8.6"/>
</g>
<g fill="#0066FF" fill-opacity="0.4">
<circle cx="628.24" cy="183.95" r="8.6"/>
<circle cx="628.24" cy="265.85" r="8.6"/>
<circle cx="628.24" cy="269.65" r="8.6"/>
<circle cx="628.24" cy="293.75" r="8.6"/>
<circle cx="628.24" cy="302.35" r="8.6"/>
<circle cx="628.24" cy="343.75" r="8.6"/>
<circle cx="628.24" cy="345.65" r="8.6"/>
</g>
<g fill="#0040DD" fill-opacity="0.4">
<circle cx="659.22" cy="170.1" r="8.6"/>
</g>
<g fill="#0040DD" fill-opacity="0.4">
<circle cx="721.17" cy="200.5" r="8.6"/>
</g>
<g fill="#0040DD" fill-opacity="0.4">
<circle cx="752.14" cy="127.1" r="8.6"/>
<circle cx="752.14" cy="184.2" r="8.6"/>
<circle cx="752.14" cy="260.7" r="8.6"/>
<circle cx="752.14" cy="321.6" r="8.6"/>
<circle cx="752.14" cy="376.9" r="8.6"/>
</g>
<g fill="#0040DD" fill-opacity="0.4">
<circle cx="783.12" cy="156" r="8.6"/>
<circle cx="783.12" cy="163.9" r="8.6"/>
<circle cx="783.12" cy="181.1" r="8.6"/>
<circle cx="783.12" cy="243.4" r="8.6"/>
</g>
<g fill="#003366" fill-opacity="0.4">
<circle cx="845.07" cy="156.2" r="8.6"/>
<circle cx="845.07" cy="174.3" r="8.6"/>
<circle cx="845.07" cy="184.8" r="8.6"/>
</g>
<g fill="#003366" fill-opacity="0.4">
<circle cx="876.05" cy="145.65" r="8.6"/>
<circle cx="876.05" cy="147.25" r="8.6"/>
<circle cx="876.05" cy="148.85" r="8.6"/>
<circle cx="876.05" cy="184.85" r="8.6"/>
<circle cx="876.05" cy="216.75" r="8.6"/>
<circle cx="876.05" cy="235.95" r="8.6"/>
<circle cx="876.05" cy="246.85" r="8.6"/>
</g>
<g fill="#003366" fill-opacity="0.4">
<circle cx="907.02" cy="130.05" r="8.6"/>
<circle cx="907.02" cy="136.35" r="8.6"/>
<circle cx="907.02" cy="160.95" r="8.6"/>
<circle cx="907.02" cy="163.45" r="8.6"/>
<circle cx="907.02" cy="173.95" r="8.6"/>
<circle cx="907.02" cy="182.65" r="8.6"/>
<circle cx="907.02" cy="194.15" r="8.6"/>
<circle cx="907.02" cy="200.55" r="8.6"/>
<circle cx="907.02" cy="211.45" r="8.6"/>
<circle cx="907.02" cy="221.75" r="8.6"/>
</g>
<g fill="#003366" fill-opacity="0.4">
<circle cx="938" cy="103.65" r="8.6"/>
<circle cx="938" cy="112.45" r="8.6"/>
<circle cx="938" cy="123.75" r="8.6"/>
<circle cx="938" cy="124.95" r="8.6"/>
<circle cx="938" cy="141.75" r="8.6"/>
<circle cx="938" cy="144.45" r="8.6"/>
<circle cx="938" cy="148.95" r="8.6"/>
<circle cx="938" cy="165.75" r="8.6"/>
<circle cx="938" cy="168.95" r="8.6"/>
<circle cx="938" cy="187.15" r="8.6"/>
<circle cx="938" cy="205.35" r="8.6"/>
<circle cx="938" cy="223.55" r="8.6"/>
<circle cx="938" cy="250.95" r="8.6"/>
<circle cx="938" cy="252.85" r="8.6"/>
<circle cx="938" cy="254.75" r="8.6"/>
</g>
<line x1="101.8" y1="29.29" x2="101.65" y2="691.81" stroke="#000" stroke-width="3.3"/>
<line x1="100" y1="690.16" x2="1001.6" y2="690.16" stroke="#000" stroke-width="3.3"/>
<line x1="109.39" y1="32.5" x2="310.74" y2="32.5" stroke="#0284D0" stroke-width="3.0"/>
<text transform="translate(210.06 24.6) scale(1 1.02)" font-size="32.5" fill="#0284D0" stroke="#0284D0" stroke-width="0.3" text-anchor="middle">Severe</text>
<line x1="326.22" y1="32.5" x2="620.5" y2="32.5" stroke="#0066FF" stroke-width="3.0"/>
<text transform="translate(473.36 24.6) scale(1 1.02)" font-size="32.5" fill="#0066FF" stroke="#0066FF" stroke-width="0.3" text-anchor="middle">Moderate</text>
<line x1="635.98" y1="32.5" x2="806.35" y2="32.5" stroke="#0040DD" stroke-width="3.0"/>
<text transform="translate(721.17 24.6) scale(1 1.02)" font-size="32.5" fill="#0040DD" stroke="#0040DD" stroke-width="0.3" text-anchor="middle">Mild</text>
<line x1="821.84" y1="32.5" x2="930.26" y2="32.5" stroke="#003366" stroke-width="3.0"/>
<text transform="translate(876.05 24.6) scale(1 1.02)" font-size="32.5" fill="#003366" stroke="#003366" stroke-width="0.3" text-anchor="middle">CN</text>
<text transform="translate(163.6 736) scale(1 1.06)" font-size="29.2" fill="#222222" stroke="#222222" stroke-width="0.3" text-anchor="middle">5</text>
<text transform="translate(318.48 736) scale(1 1.06)" font-size="29.2" fill="#222222" stroke="#222222" stroke-width="0.3" text-anchor="middle">10</text>
<text transform="translate(473.36 736) scale(1 1.06)" font-size="29.2" fill="#222222" stroke="#222222" stroke-width="0.3" text-anchor="middle">15</text>
<text transform="translate(628.24 736) scale(1 1.06)" font-size="29.2" fill="#222222" stroke="#222222" stroke-width="0.3" text-anchor="middle">20</text>
<text transform="translate(783.12 736) scale(1 1.06)" font-size="29.2" fill="#222222" stroke="#222222" stroke-width="0.3" text-anchor="middle">25</text>
<text transform="translate(938 736) scale(1 1.06)" font-size="29.2" fill="#222222" stroke="#222222" stroke-width="0.3" text-anchor="middle">30</text>
<text transform="translate(77 655.6) scale(1 1.06)" font-size="29.2" fill="#222222" stroke="#222222" stroke-width="0.3" text-anchor="end">5</text>
<text transform="translate(77 541.94) scale(1 1.06)" font-size="29.2" fill="#222222" stroke="#222222" stroke-width="0.3" text-anchor="end">10</text>
<text transform="translate(77 428.28) scale(1 1.06)" font-size="29.2" fill="#222222" stroke="#222222" stroke-width="0.3" text-anchor="end">15</text>
<text transform="translate(77 314.62) scale(1 1.06)" font-size="29.2" fill="#222222" stroke="#222222" stroke-width="0.3" text-anchor="end">20</text>
<text transform="translate(77 200.96) scale(1 1.06)" font-size="29.2" fill="#222222" stroke="#222222" stroke-width="0.3" text-anchor="end">25</text>
<text transform="translate(77 87.3) scale(1 1.06)" font-size="29.2" fill="#222222" stroke="#222222" stroke-width="0.3" text-anchor="end">30</text>
<text transform="translate(550.9 778.6) scale(1 1.04)" font-size="35.4" fill="#222222" stroke="#222222" stroke-width="0.3" text-anchor="middle">True MMSE</text>
<text transform="translate(25.7 361.3) rotate(-90) scale(1 1.04)" font-size="35.4" fill="#222222" stroke="#222222" stroke-width="0.3" text-anchor="middle">Predicted MMSE</text>
</svg>
</body></html>
